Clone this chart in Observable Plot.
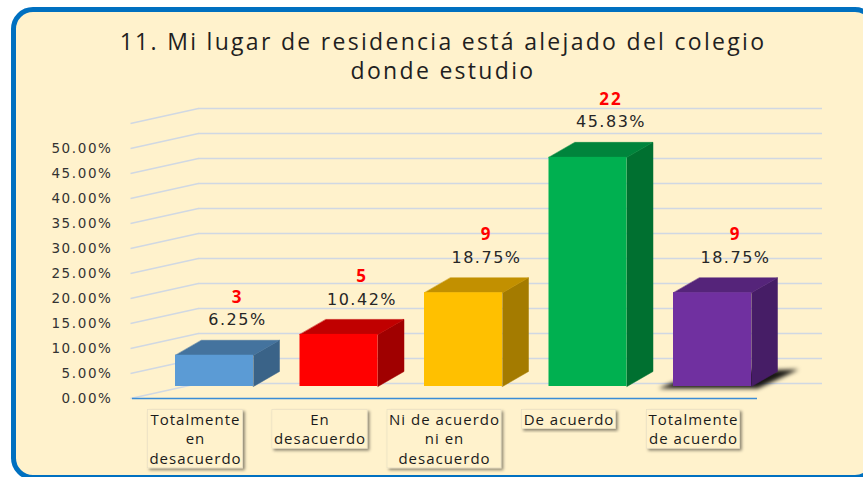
<!DOCTYPE html>
<html><head><meta charset="utf-8">
<script src="https://cdn.jsdelivr.net/npm/d3@7"></script>
<script src="https://cdn.jsdelivr.net/npm/@observablehq/plot@0.6"></script>
<style>
html,body{margin:0;padding:0;background:#fff;}
#wrap{position:relative;width:863px;height:477px;overflow:hidden;background:#fff;}
#frame{position:absolute;left:11px;top:7px;width:866px;height:473px;box-sizing:border-box;border:5px solid #0070C0;border-radius:22px;background:#FFF2CC;}
#title{position:absolute;left:0;top:27px;width:886px;text-align:center;font-family:"Open Sans";font-size:23px;letter-spacing:2.3px;line-height:29px;color:#1f1f1f;}
#chart{position:absolute;left:0;top:0;}
</style></head>
<body><div id="wrap"><div id="frame"></div><div id="title">11. Mi lugar de residencia está alejado del colegio<br>donde estudio</div><div id="chart"></div></div>
<script>
// ---- data ----
const categories = ["Totalmente en desacuerdo", "En desacuerdo", "Ni de acuerdo ni en desacuerdo", "De acuerdo", "Totalmente de acuerdo"];
const categoryLines = ["Totalmente\nen\ndesacuerdo", "En\ndesacuerdo", "Ni de acuerdo\nni en\ndesacuerdo", "De acuerdo", "Totalmente\nde acuerdo"];
const counts = [3, 5, 9, 22, 9];
const percents = [6.25, 10.42, 18.75, 45.83, 18.75];
const frontColors = ["#5B9BD5", "#FF0000", "#FFC000", "#00B050", "#7030A0"];
const topColors = ["#44739E", "#C00000", "#C29000", "#00843C", "#55247A"];
const sideColors = ["#3A6388", "#A00000", "#A47B00", "#007030", "#461D66"];
const shadowed = [false, false, false, false, true];
const yTicks = [0, 5, 10, 15, 20, 25, 30, 35, 40, 45, 50];
const gridValues = [0, 5, 10, 15, 20, 25, 30, 35, 40, 45, 50, 55];

// ---- layout (3D look) ----
const X_RANGE = [195, 693], Y_RANGE = [386, 111];
const PX_X = (X_RANGE[1] - X_RANGE[0]) / 4, PX_Y = (Y_RANGE[0] - Y_RANGE[1]) / 55;
const BAR_L = -20 / PX_X, BAR_R = 58 / PX_X, DEP_X = 26 / PX_X, DEP_Y = 15 / PX_Y;
const WALL_FRONT_X = -65 / PX_X, WALL_BACK_X1 = 3 / PX_X, WALL_BACK_X2 = 627 / PX_X;
const FRONT_OFF = 12 / PX_Y, BACK_OFF = 3 / PX_Y;
const AXIS_X1 = -63 / PX_X, AXIS_X2 = 562 / PX_X;
const YLAB_X = -83 / PX_X, LABEL_DX = 42 / PX_X;

const rows = categories.map((c, i) => ({
  i, cat: c, label: categoryLines[i], n: counts[i], p: percents[i],
  front: frontColors[i], top: topColors[i], side: sideColors[i], shadow: shadowed[i]
}));
const poly = (r, pts, fill) => pts.map(([x, y]) => ({id: r.i, x, y, fill}));
const sidePolys = rows.flatMap(r => poly(r, [[r.i + BAR_R, 0], [r.i + BAR_R + DEP_X, DEP_Y], [r.i + BAR_R + DEP_X, r.p + DEP_Y], [r.i + BAR_R, r.p]], r.side));
const topPolys = rows.flatMap(r => poly(r, [[r.i + BAR_L, r.p], [r.i + BAR_R, r.p], [r.i + BAR_R + DEP_X, r.p + DEP_Y], [r.i + BAR_L + DEP_X, r.p + DEP_Y]], r.top));
const shadowPolys = rows.filter(r => r.shadow).flatMap(r => poly(r, [[r.i + BAR_L - 0.12, -0.4], [r.i + BAR_R + 0.05, -0.4], [r.i + BAR_R + DEP_X + 0.17, DEP_Y + 0.4], [r.i + BAR_L + DEP_X, DEP_Y]], "#000"));

const plot = Plot.plot({
  width: 863, height: 477,
  style: {background: "transparent", overflow: "visible"},
  x: {type: "linear", domain: [0, 4], range: X_RANGE, axis: null},
  y: {type: "linear", domain: [0, 55], range: Y_RANGE, axis: null},
  color: {type: "identity"},
  marks: [
    Plot.ruleY(gridValues, {y: d => d + BACK_OFF, x1: () => WALL_BACK_X1, x2: () => WALL_BACK_X2, stroke: "#D0D8E3", strokeWidth: 1.4}),
    Plot.link(gridValues, {x1: () => WALL_FRONT_X, y1: d => d - FRONT_OFF, x2: () => WALL_BACK_X1, y2: d => d + BACK_OFF, stroke: "#D0D8E3", strokeWidth: 1.4}),
    Plot.ruleY([0], {y: d => d - FRONT_OFF, x1: () => AXIS_X1, x2: () => AXIS_X2, stroke: "#3A8DD6", strokeWidth: 1.6}),
    Plot.line(shadowPolys, {x: "x", y: "y", z: "id", fill: "fill", stroke: null, curve: "linear-closed", fillOpacity: 0.9, ariaDescription: "shadow"}),
    Plot.line(sidePolys, {x: "x", y: "y", z: "id", fill: "fill", stroke: "fill", strokeWidth: 0.5, curve: "linear-closed"}),
    Plot.line(topPolys, {x: "x", y: "y", z: "id", fill: "fill", stroke: "fill", strokeWidth: 0.5, curve: "linear-closed"}),
    Plot.rect(rows, {x1: r => r.i + BAR_L, x2: r => r.i + BAR_R, y1: () => 0, y2: "p", fill: "front"}),
    Plot.text(rows, {x: r => r.i + LABEL_DX, y: "p", dy: -35, text: r => r.p.toFixed(2) + "%", fontFamily: "DejaVu Sans", fontSize: 16, fill: "#262626", ariaDescription: "pct-label"}),
    Plot.text(rows, {x: r => r.i + LABEL_DX, y: "p", dy: -58, text: r => String(r.n), fontFamily: "Open Sans", fontWeight: "bold", fontSize: 17, fill: "#FF0000", ariaDescription: "count-label"}),
    Plot.text(yTicks, {x: () => YLAB_X, y: d => d - FRONT_OFF, text: d => d.toFixed(2) + "%", textAnchor: "end", fontFamily: "DejaVu Sans", fontSize: 13.5, fill: "#333333", ariaDescription: "ytick-label"}),
    Plot.text(rows, {x: "i", y: () => 0, dy: 24, text: "label", lineAnchor: "top", lineHeight: 19.7 / 15, fontFamily: "Open Sans", fontSize: 15, fill: "#1a1a1a", ariaDescription: "category-label"})
  ]
});
document.getElementById("chart").appendChild(plot);

const svg = d3.select(plot);
const g = name => svg.select(`g[aria-description="${name}"]`);
g("pct-label").style("letter-spacing", "1.5px");
g("count-label").style("letter-spacing", "2px");
g("ytick-label").style("letter-spacing", "1.6px");
g("category-label").style("letter-spacing", "1px");

const defs = svg.insert("defs", ":first-child");
const blur = defs.append("filter").attr("id", "blur2").attr("x", "-20%").attr("y", "-50%").attr("width", "140%").attr("height", "200%");
blur.append("feGaussianBlur").attr("stdDeviation", 2.2);
const ds = defs.append("filter").attr("id", "dshadow").attr("x", "-10%").attr("y", "-10%").attr("width", "130%").attr("height", "130%");
ds.append("feDropShadow").attr("dx", 2).attr("dy", 2).attr("stdDeviation", 1.6).attr("flood-color", "#000").attr("flood-opacity", 0.45);
g("shadow").attr("filter", "url(#blur2)");

g("category-label").selectAll("text").each(function() {
  const b = this.getBBox();
  const rect = document.createElementNS("http://www.w3.org/2000/svg", "rect");
  rect.setAttribute("x", b.x - 2);
  rect.setAttribute("y", b.y + 1);
  rect.setAttribute("width", b.width + 3);
  rect.setAttribute("height", b.height - 1);
  rect.setAttribute("fill", "#FFF2CC");
  rect.setAttribute("stroke", "#E6DDC3");
  rect.setAttribute("stroke-width", "0.6");
  rect.setAttribute("filter", "url(#dshadow)");
  const t = this.getAttribute("transform");
  if (t) rect.setAttribute("transform", t);
  this.parentNode.insertBefore(rect, this);
});
</script>
</body></html>
